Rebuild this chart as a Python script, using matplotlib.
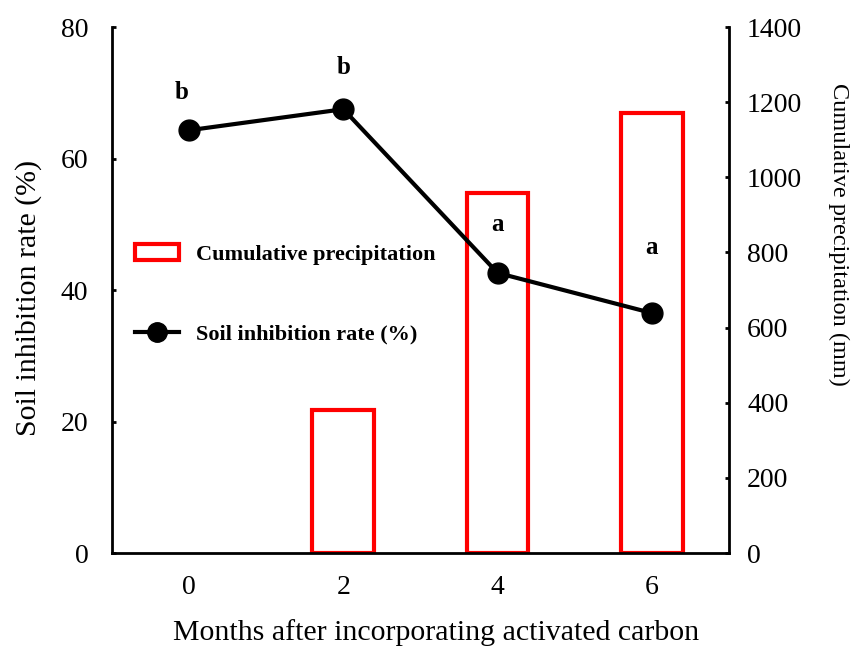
import matplotlib.pyplot as plt
from matplotlib.patches import Patch
from matplotlib.lines import Line2D

plt.rcParams['font.family'] = ['Liberation Serif', 'DejaVu Serif']

# data
months = [0, 2, 4, 6]
inhibition = [64.3, 67.5, 42.6, 36.5]          # Soil inhibition rate (%)
precip_months = [2, 4, 6]
precip = [381, 958, 1171]                      # Cumulative precipitation (mm)
letters = ['b', 'b', 'a', 'a']
letter_y = [70.1, 73.8, 49.9, 46.4]

fig = plt.figure(figsize=(8.56, 6.59), dpi=100)
ax = fig.add_axes([0.1308, 0.1608, 0.7208, 0.7982])
ax2 = ax.twinx()

ax2.bar(precip_months, precip, width=0.8, facecolor='none',
        edgecolor='#ff0000', linewidth=3)
ax.plot(months, inhibition, color='black', lw=3, marker='o', markersize=15)
for i, (m, y, t) in enumerate(zip(months, letter_y, letters)):
    dx = -0.1 if i == 0 else 0
    ax.text(m + dx, y, t, ha='center', va='center', fontsize=18, fontweight='bold')

ax.set_zorder(ax2.get_zorder() + 1)
ax.patch.set_visible(False)

ax.set_xlim(-1, 7)
ax.set_ylim(0, 80)
ax2.set_ylim(0, 1400)
ax.set_xticks(months)
ax.set_yticks([0, 20, 40, 60, 80])
ax2.set_yticks(range(0, 1401, 200))

for a in (ax, ax2):
    a.spines['top'].set_visible(False)
    for s in a.spines.values():
        s.set_linewidth(2)
ax.spines['right'].set_visible(False)
ax2.spines['left'].set_visible(False)
ax2.spines['bottom'].set_visible(False)

ax.tick_params(axis='y', direction='in', length=3, width=2, labelsize=20, pad=17)
ax.tick_params(axis='x', length=0, labelsize=20, pad=16)
ax2.tick_params(axis='y', direction='in', length=3, width=2, labelsize=20, pad=13)

ax.set_xlabel('Months after incorporating activated carbon', fontsize=21.5)
ax.xaxis.set_label_coords(0.525, -0.125)
ax.set_ylabel('Soil inhibition rate (%)', fontsize=21.5)
ax.yaxis.set_label_coords(-0.114, 0.485)
ax2.set_ylabel('Cumulative precipitation (mm)', fontsize=17.5, rotation=270)
ax2.yaxis.set_label_coords(1.195, 0.605)

handles = [Patch(facecolor='white', edgecolor='#ff0000', linewidth=3),
           Line2D([], [], color='black', lw=3, marker='o', markersize=14)]
ax.legend(handles, ['Cumulative precipitation', 'Soil inhibition rate (%)'],
          loc='upper left', bbox_to_anchor=(0.037, 0.588), frameon=False,
          borderpad=0, borderaxespad=0,
          prop={'weight': 'bold', 'size': 16}, labelspacing=2.67,
          handlelength=2.0, handleheight=0.75, handletextpad=0.75)

fig.savefig('out.png', dpi=100)
